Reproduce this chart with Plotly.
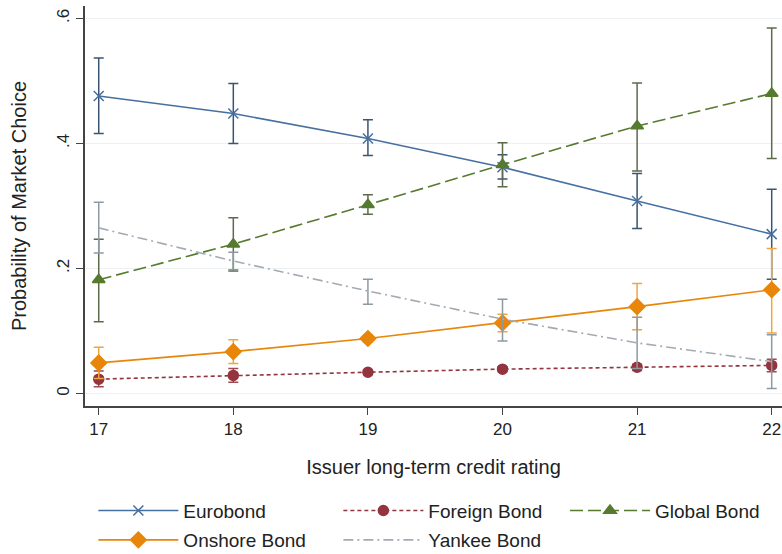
import plotly.graph_objects as go

ratings = [17, 18, 19, 20, 21, 22]

euro = [0.476, 0.448, 0.408, 0.362, 0.308, 0.255]
euro_hi = [0.537, 0.496, 0.438, 0.382, 0.352, 0.327]
euro_lo = [0.416, 0.400, 0.381, 0.343, 0.264, 0.183]

foreign = [0.023, 0.029, 0.034, 0.039, 0.042, 0.045]
foreign_hi = [0.036, 0.040, 0.038, 0.043, 0.047, 0.055]
foreign_lo = [0.011, 0.018, 0.030, 0.035, 0.037, 0.035]

glob = [0.182, 0.239, 0.302, 0.366, 0.428, 0.480]
glob_hi = [0.247, 0.281, 0.318, 0.401, 0.497, 0.585]
glob_lo = [0.115, 0.196, 0.287, 0.331, 0.356, 0.376]

onshore = [0.049, 0.067, 0.088, 0.113, 0.139, 0.166]
onshore_hi = [0.074, 0.086, 0.094, 0.127, 0.176, 0.232]
onshore_lo = [0.024, 0.048, 0.082, 0.099, 0.102, 0.097]

yankee = [0.265, 0.212, 0.164, 0.119, 0.081, 0.051]
yankee_hi = [0.306, 0.226, 0.183, 0.151, 0.122, 0.094]
yankee_lo = [0.225, 0.198, 0.143, 0.084, 0.040, 0.008]

ytick_vals = [0, 0.2, 0.4, 0.6]
ytick_text = ["0", ".2", ".4", ".6"]

FONT = "Liberation Sans, Arial, sans-serif"


def err(v, hi, lo):
    return [h - x for x, h in zip(v, hi)], [x - l for x, l in zip(v, lo)]


series = [
    dict(name="Eurobond", y=euro, hi=euro_hi, lo=euro_lo, color="#4670a0", ecolor="#3a5472",
         dash="solid", symbol="x-thin", size=10, legend="legend"),
    dict(name="Foreign Bond", y=foreign, hi=foreign_hi, lo=foreign_lo, color="#93343f", ecolor="#a04a52",
         dash="4px,3px", symbol="circle", size=10, legend="legend"),
    dict(name="Global Bond", y=glob, hi=glob_hi, lo=glob_lo, color="#567a2e", ecolor="#5d6b4c",
         dash="13px,5px", symbol="triangle-up", size=11, legend="legend3"),
    dict(name="Onshore Bond", y=onshore, hi=onshore_hi, lo=onshore_lo, color="#e8860a", ecolor="#f0a640",
         dash="solid", symbol="diamond", size=12, legend="legend2"),
    dict(name="Yankee Bond", y=yankee, hi=yankee_hi, lo=yankee_lo, color="#a3abb2", ecolor="#8d9aa2",
         dash="10px,4px,2px,4px", symbol="circle", size=1, legend="legend2"),
]

fig = go.Figure()
for s in series:
    up, dn = err(s["y"], s["hi"], s["lo"])
    fig.add_trace(go.Scatter(
        x=ratings, y=s["y"], name=s["name"], mode="lines+markers" if s["size"] > 1 else "lines",
        line=dict(color=s["color"], width=1.6, dash=s["dash"]),
        marker=dict(symbol=s["symbol"], size=s["size"], color=s["color"],
                    line=dict(color=s["color"], width=1.5)),
        error_y=dict(type="data", symmetric=False, array=up, arrayminus=dn,
                     color=s["ecolor"], thickness=1.5, width=5),
        legend=s["legend"],
    ))


def legend_opts(x, y, entrywidth):
    return dict(orientation="h", xanchor="left", yanchor="middle", x=x, y=y,
                entrywidth=entrywidth, entrywidthmode="pixels", itemwidth=80,
                font=dict(size=19, family=FONT, color="#222222"),
                bgcolor="rgba(0,0,0,0)", tracegroupgap=0)


fig.update_layout(
    width=782, height=554,
    margin=dict(l=85, r=0, t=6, b=148, autoexpand=False),
    paper_bgcolor="white", plot_bgcolor="white",
    font=dict(family=FONT, size=16, color="#222222"),
    showlegend=True,
    legend=legend_opts(0.012, -0.2615, 150),
    legend3=legend_opts((565 - 85) / 697, -0.2615, 110),
    legend2=legend_opts(0.012, -0.335, 150),
    xaxis=dict(range=[16.898, 22.0765], tickvals=ratings, ticks="outside", ticklen=7,
               tickcolor="#444", showline=True, linecolor="#444", linewidth=1.5,
               showgrid=False, zeroline=False, tickfont=dict(size=17),
               title=dict(text="Issuer long-term credit rating", font=dict(size=20), standoff=22)),
    yaxis=dict(range=[-0.02, 0.62], tickvals=ytick_vals, ticktext=ytick_text, ticks="outside",
               ticklen=7, tickcolor="#444", tickangle=-90, showline=True, linecolor="#444",
               linewidth=1.5, showgrid=True, gridcolor="#eef1f1", gridwidth=1, zeroline=False,
               tickfont=dict(size=17),
               title=dict(text="Probability of Market Choice", font=dict(size=20), standoff=22)),
)

fig.write_html("out.html")
